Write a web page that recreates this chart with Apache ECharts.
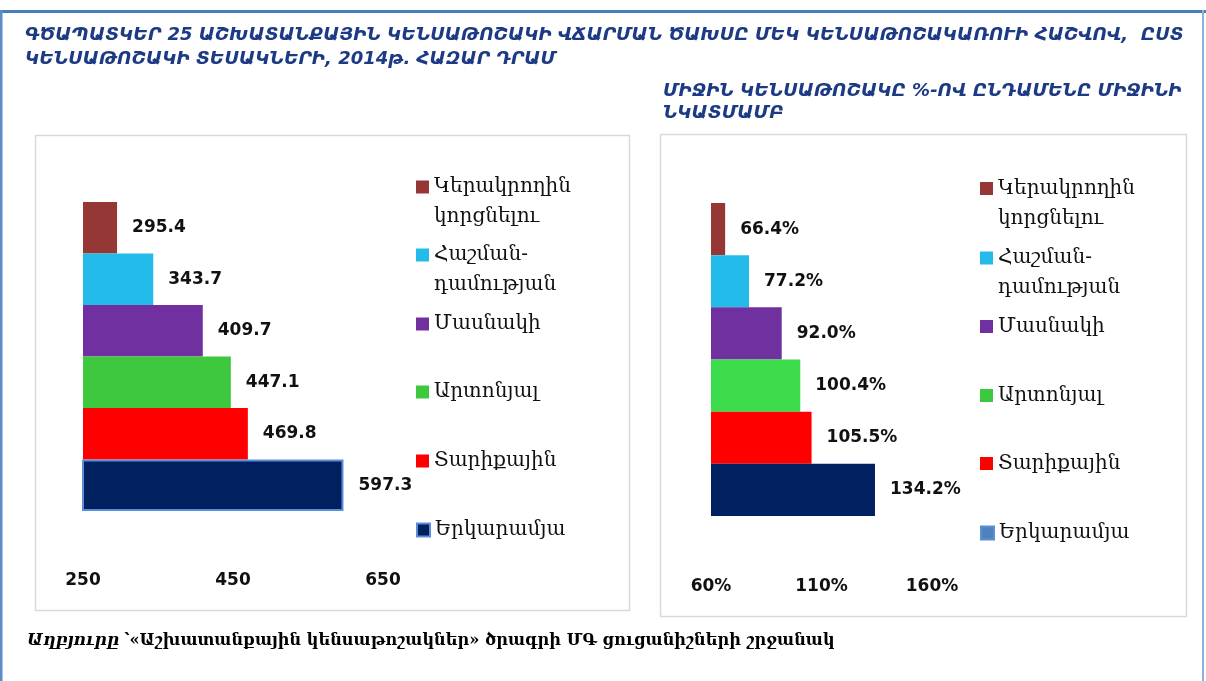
<!DOCTYPE html>
<html><head><meta charset="utf-8">
<script src="https://cdn.jsdelivr.net/npm/echarts@6/dist/echarts.min.js"></script>
<style>html,body{margin:0;padding:0;background:#fff}#c{width:1206px;height:681px}</style>
</head><body><div id="c"></div>
<script>
const categories = ['Կերակրողին կորցնելու','Հաշման-դամության','Մասնակի','Արտոնյալ','Տարիքային','Երկարամյա'];
const legendLabels = ['Կերակրողին\nկորցնելու','Հաշման-\nդամության','Մասնակի','Արտոնյալ','Տարիքային','Երկարամյա'];
const pensionAmount = [295.4, 343.7, 409.7, 447.1, 469.8, 597.3];
const pensionPercent = [66.4, 77.2, 92.0, 100.4, 105.5, 134.2];
const leftTicks = [250, 450, 650];
const rightTicks = [60, 110, 160];
const leftColors = ['#953735','#22BBEA','#7030A0','#3EC83E','#FF0000','#002060'];
const rightColors = ['#953735','#22BBEA','#7030A0','#3DDC4C','#FF0000','#002060'];
const titleMain = 'ԳԾԱՊԱՏԿԵՐ 25 ԱՇԽԱՏԱՆՔԱՅԻՆ ԿԵՆՍԱԹՈՇԱԿԻ ՎՃԱՐՄԱՆ ԾԱԽՍԸ ՄԵԿ ԿԵՆՍԱԹՈՇԱԿԱՌՈՒԻ ՀԱՇՎՈՎ,  ԸՍՏ\nԿԵՆՍԱԹՈՇԱԿԻ ՏԵՍԱԿՆԵՐԻ, 2014թ. ՀԱԶԱՐ ԴՐԱՄ';
const titleRight = 'ՄԻՋԻՆ ԿԵՆՍԱԹՈՇԱԿԸ %-ՈՎ ԸՆԴԱՄԵՆԸ ՄԻՋԻՆԻ\nՆԿԱՏՄԱՄԲ';
const sourceLabel = 'Աղբյուրը';
const sourceText = '՝«Աշխատանքային կենսաթոշակներ» ծրագրի ՄԳ ցուցանիշների շրջանակ';

const NUM_FONT = 'DejaVu Sans';
const ARM_FONT = 'DejaVu Serif';
const TITLE_COLOR = '#1D3A85';

const chart = echarts.init(document.getElementById('c'), null, {renderer: 'canvas'});

function makeSeries(values, colors, axisIdx, fmt, navyBorder) {
  return categories.map((name, i) => ({
    name: name,
    type: 'bar',
    xAxisIndex: axisIdx,
    yAxisIndex: axisIdx,
    barGap: '-100%',
    barCategoryGap: '0%',
    silent: true,
    data: categories.map((c, j) => j === i ? values[i] : '-'),
    itemStyle: Object.assign({color: colors[i]},
      (navyBorder && i === 5) ? {borderColor: '#5B8ED6', borderWidth: 2} : {}),
    label: {
      show: true, position: 'right', distance: 15,
      fontFamily: NUM_FONT, fontWeight: 'bold', fontSize: 17, color: '#111',
      formatter: p => fmt(p.value)
    }
  }));
}

const leftIconC = [187, 255, 324, 392, 461, 530];
const rightIconC = [188.5, 258, 326.5, 395.5, 463.5, 533];
const LH = 30;
function makeLegends(left, centers, navyItemStyle) {
  return categories.map((name, i) => {
    const two = legendLabels[i].indexOf('\n') >= 0;
    const top = two ? centers[i] - 1.5 * LH : centers[i] - 0.5 * LH;
    const item = {name: name, icon: 'rect'};
    if (i === 5) item.itemStyle = navyItemStyle;
    return {
      data: [item],
      left: left, top: top, padding: 0,
      orient: 'vertical', itemWidth: 13, itemHeight: 13,
      selectedMode: false,
      formatter: () => (two ? '\n' : '') + legendLabels[i],
      textStyle: {fontFamily: ARM_FONT, fontSize: 20, lineHeight: LH, color: '#111'}
    };
  });
}

const option = {
  backgroundColor: '#fff',
  animation: false,
  title: [
    {text: titleMain, left: 25, top: 24, padding: 0,
     textStyle: {fontFamily: 'DejaVu Sans', fontStyle: 'italic', fontWeight: 'bold', fontSize: 18, lineHeight: 23.5, color: TITLE_COLOR}},
    {text: titleRight, left: 663, top: 80, padding: 0,
     textStyle: {fontFamily: 'DejaVu Sans', fontStyle: 'italic', fontWeight: 'bold', fontSize: 18, lineHeight: 22, color: TITLE_COLOR}},
    {text: '{b|' + sourceLabel + '} {r|' + sourceText + '}', left: 27, top: 632, padding: 0,
     textStyle: {rich: {
       b: {fontFamily: ARM_FONT, fontStyle: 'italic', fontWeight: 'bold', fontSize: 17, color: '#000'},
       r: {fontFamily: ARM_FONT, fontSize: 16.2, color: '#000'}
     }}}
  ],
  legend: makeLegends(416, leftIconC, {color: '#002060', borderColor: '#5B8ED6', borderWidth: 2})
    .concat(makeLegends(980, rightIconC, {color: '#4F81BD'})),
  grid: [
    {left: 83, top: 202, width: 300, height: 309},
    {left: 711, top: 203, width: 221, height: 313}
  ],
  xAxis: [
    {gridIndex: 0, type: 'value', min: leftTicks[0], max: leftTicks[leftTicks.length - 1], interval: leftTicks[1] - leftTicks[0],
     axisLine: {show: false}, axisTick: {show: false}, splitLine: {show: false},
     axisLabel: {margin: 61, fontFamily: NUM_FONT, fontWeight: 'bold', fontSize: 17, color: '#111'}},
    {gridIndex: 1, type: 'value', min: rightTicks[0], max: rightTicks[rightTicks.length - 1], interval: rightTicks[1] - rightTicks[0],
     axisLine: {show: false}, axisTick: {show: false}, splitLine: {show: false},
     axisLabel: {margin: 62, fontFamily: NUM_FONT, fontWeight: 'bold', fontSize: 17, color: '#111', formatter: v => v + '%'}}
  ],
  yAxis: [
    {gridIndex: 0, type: 'category', data: categories, inverse: true, show: false},
    {gridIndex: 1, type: 'category', data: categories, inverse: true, show: false}
  ],
  series: makeSeries(pensionAmount, leftColors, 0, v => v.toFixed(1), true)
    .concat(makeSeries(pensionPercent, rightColors, 1, v => v.toFixed(1) + '%', false)),
  graphic: [
    {type: 'rect', shape: {x: 0, y: 10, width: 1206, height: 3}, style: {fill: '#4A7EBB'}, silent: true},
    {type: 'rect', shape: {x: 0, y: 10, width: 2.5, height: 671}, style: {fill: '#5B8BC9'}, silent: true},
    {type: 'rect', shape: {x: 1202, y: 10, width: 2, height: 671}, style: {fill: '#8FB0DC'}, silent: true},
    {type: 'rect', shape: {x: 35.5, y: 135.5, width: 594, height: 475}, style: {fill: 'none', stroke: '#D9D9D9', lineWidth: 1.5}, silent: true, z: -1},
    {type: 'rect', shape: {x: 660.5, y: 134.5, width: 526, height: 482}, style: {fill: 'none', stroke: '#D9D9D9', lineWidth: 1.5}, silent: true, z: -1}
  ]
};
chart.setOption(option);
</script>
</body></html>
